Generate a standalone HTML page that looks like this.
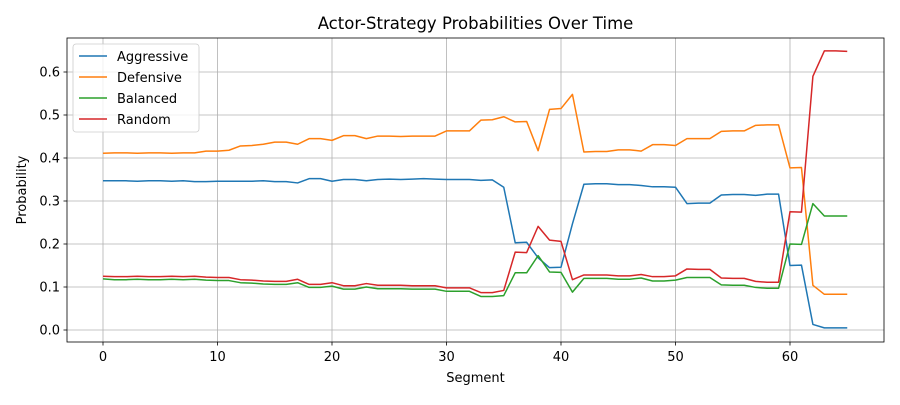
<!DOCTYPE html>
<html><head><meta charset="utf-8"><style>
body{margin:0;background:#fff;font-family:"Liberation Sans","DejaVu Sans",sans-serif;}
svg text{font-family:"DejaVu Sans","Liberation Sans",sans-serif;}
</style></head><body>
<svg id="chart" width="900" height="400" xmlns="http://www.w3.org/2000/svg"></svg>
<script>
const segments = Array.from({length:66},(_,i)=>i);
const aggressive=[0.347,0.347,0.347,0.346,0.347,0.347,0.346,0.347,0.345,0.345,0.346,0.346,0.346,0.346,0.347,0.345,0.345,0.342,0.352,0.352,0.346,0.350,0.350,0.347,0.350,0.351,0.350,0.351,0.352,0.351,0.350,0.350,0.350,0.348,0.349,0.332,0.203,0.204,0.168,0.145,0.146,0.247,0.339,0.340,0.340,0.338,0.338,0.336,0.333,0.333,0.332,0.294,0.295,0.295,0.314,0.315,0.315,0.313,0.316,0.316,0.150,0.151,0.013,0.005,0.005,0.005];
const defensive=[0.411,0.412,0.412,0.411,0.412,0.412,0.411,0.412,0.412,0.416,0.416,0.418,0.428,0.429,0.432,0.437,0.437,0.432,0.445,0.445,0.441,0.452,0.452,0.445,0.451,0.451,0.450,0.451,0.451,0.451,0.463,0.463,0.463,0.488,0.489,0.496,0.484,0.485,0.417,0.513,0.515,0.548,0.414,0.415,0.415,0.419,0.419,0.416,0.431,0.431,0.429,0.445,0.445,0.445,0.462,0.463,0.463,0.476,0.477,0.477,0.377,0.378,0.104,0.083,0.083,0.083];
const balanced=[0.119,0.117,0.117,0.118,0.117,0.117,0.118,0.117,0.118,0.116,0.115,0.115,0.110,0.109,0.107,0.106,0.106,0.110,0.099,0.099,0.102,0.095,0.095,0.100,0.096,0.096,0.096,0.095,0.095,0.095,0.090,0.090,0.090,0.078,0.078,0.080,0.133,0.133,0.173,0.135,0.134,0.088,0.120,0.120,0.120,0.118,0.118,0.121,0.114,0.114,0.116,0.122,0.122,0.122,0.105,0.104,0.104,0.099,0.097,0.097,0.200,0.199,0.294,0.265,0.265,0.265];
const random=[0.125,0.124,0.124,0.125,0.124,0.124,0.125,0.124,0.125,0.123,0.122,0.122,0.117,0.116,0.114,0.113,0.113,0.118,0.106,0.106,0.110,0.103,0.103,0.108,0.104,0.104,0.104,0.103,0.103,0.103,0.098,0.098,0.098,0.087,0.087,0.092,0.181,0.180,0.241,0.209,0.206,0.117,0.128,0.128,0.128,0.126,0.126,0.129,0.124,0.124,0.126,0.142,0.141,0.141,0.121,0.120,0.120,0.113,0.111,0.111,0.275,0.274,0.590,0.649,0.649,0.648];
const xTicks=[0,10,20,30,40,50,60];
const yTicks=[0.0,0.1,0.2,0.3,0.4,0.5,0.6];
const seriesNames=["Aggressive","Defensive","Balanced","Random"];
const colors=["#1f77b4","#ff7f0e","#2ca02c","#d62728"];
const seriesData=[aggressive,defensive,balanced,random];

const L=67,R=884,T=38,B=342;
const x=v=>103+v*(790-103)/60;
const y=v=>330-v*430;
const svg=document.getElementById('chart');
const NS="http://www.w3.org/2000/svg";
function mk(tag,attrs,parent){const e=document.createElementNS(NS,tag);for(const k in attrs)e.setAttribute(k,attrs[k]);(parent||svg).appendChild(e);return e;}

const grid=mk('g',{});


xTicks.forEach(t=>{mk('line',{x1:x(t),x2:x(t),y1:T,y2:B,stroke:'#b0b0b0','stroke-width':0.8},grid);});
yTicks.forEach(t=>{mk('line',{x1:L,x2:R,y1:y(t),y2:y(t),stroke:'#b0b0b0','stroke-width':0.8},grid);});

const xAxis=mk('g',{});


xTicks.forEach(t=>{mk('line',{x1:x(t),x2:x(t),y1:B,y2:B+3.5,stroke:'#000','stroke-width':0.8},xAxis);
 const tx=mk('text',{x:x(t),y:B+19,'font-size':13,'text-anchor':'middle',fill:'#000'},xAxis);tx.textContent=t;});
const yAxis=mk('g',{});


yTicks.forEach(t=>{mk('line',{x1:L-3.5,x2:L,y1:y(t),y2:y(t),stroke:'#000','stroke-width':0.8},yAxis);
 const tx=mk('text',{x:L-7,y:y(t)+4.5,'font-size':13,'text-anchor':'end',fill:'#000'},yAxis);tx.textContent=t.toFixed(1);});

seriesData.forEach((d,i)=>{
 const p=mk('polyline',{points:d.map((v,j)=>x(segments[j])+','+y(v)).join(' '),fill:'none',stroke:colors[i],'stroke-width':1.5,'stroke-linejoin':'round'});
 
 
});

mk('rect',{x:L,y:T,width:R-L,height:B-T,fill:'none',stroke:'#000','stroke-width':0.8});

const title=mk('text',{x:(L+R)/2,y:29,'font-size':16.5,'text-anchor':'middle',fill:'#000'});
title.textContent='Actor-Strategy Probabilities Over Time';


const xl=mk('text',{x:(L+R)/2,y:382,'font-size':13,'text-anchor':'middle',fill:'#000'});
xl.textContent='Segment';


const yl=mk('text',{x:0,y:0,'font-size':13,'text-anchor':'middle',fill:'#000',transform:'translate(26,190) rotate(-90)'});
yl.textContent='Probability';



const leg=mk('g',{});


mk('rect',{x:73,y:44,width:126,height:88,rx:3,fill:'#fff','fill-opacity':0.8,stroke:'#ccc','stroke-width':0.8},leg);
seriesNames.forEach((n,i)=>{
 const g=mk('g',{},leg);
 
 
 const yy=56+i*21;
 mk('line',{x1:79,x2:107,y1:yy,y2:yy,stroke:colors[i],'stroke-width':1.5},g);
 const t=mk('text',{x:117,y:yy+5,'font-size':13,fill:'#000'},g);t.textContent=n;
});
</script>
</body></html>
